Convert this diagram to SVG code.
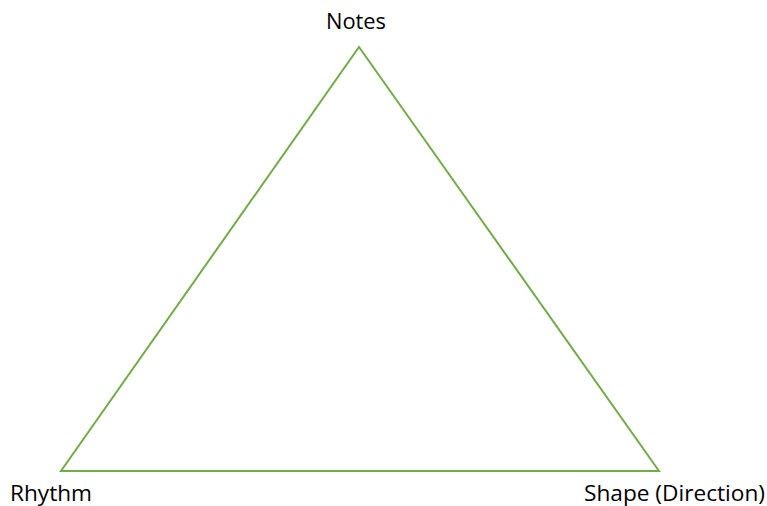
<svg xmlns="http://www.w3.org/2000/svg" width="767" height="506" viewBox="0 0 767 506">
<style>
.lbl{font-family:"Open Sans","Noto Sans","Liberation Sans",sans-serif;font-size:22px;fill:#000}
.edge{stroke:#70AD47;stroke-width:2;fill:none;stroke-linejoin:miter}
</style>
<rect width="767" height="506" fill="#fff"/>
<g id="connectors">
<polygon class="edge" points="359,47 659,471 61,471"/>
</g>
<g id="notes"><text class="lbl" x="326" y="29" textLength="60" lengthAdjust="spacingAndGlyphs">Notes</text></g>
<g id="rhythm"><text class="lbl" x="10" y="501" textLength="82" lengthAdjust="spacingAndGlyphs">Rhythm</text></g>
<g id="shape"><text class="lbl" x="584" y="501" textLength="181" lengthAdjust="spacingAndGlyphs">Shape (Direction)</text></g>
</svg>
